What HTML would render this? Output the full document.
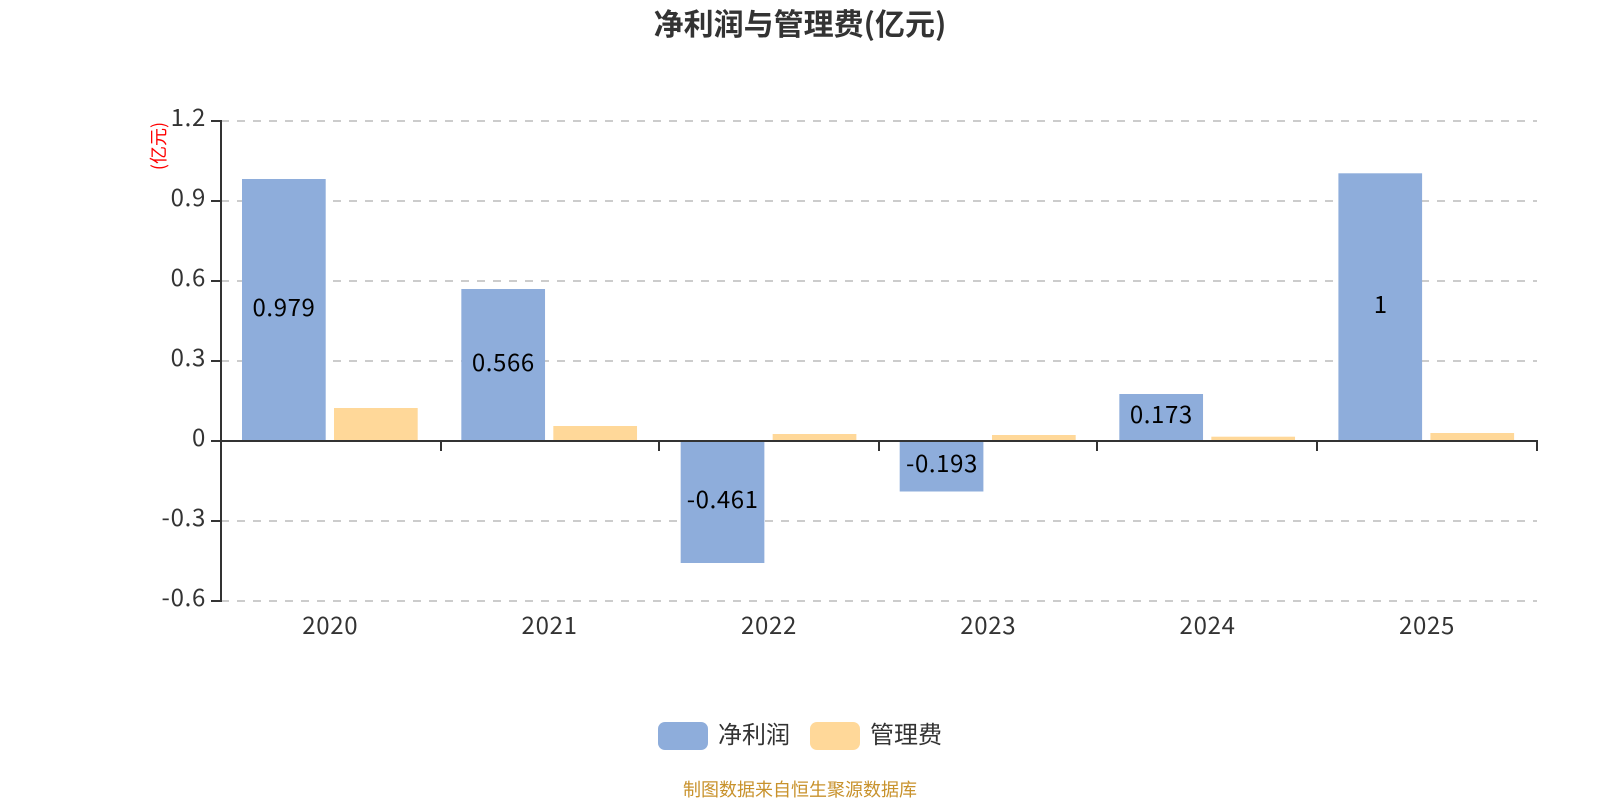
<!DOCTYPE html>
<html><head><meta charset="utf-8"><style>
html,body{margin:0;padding:0;background:#fff;width:1600px;height:800px;overflow:hidden}
svg{display:block}
text{font-family:"Noto Sans CJK SC","Liberation Sans",sans-serif}
.t{font-size:24px;fill:#333}
.n{letter-spacing:.7px}
.l{font-size:24px;fill:#000;text-anchor:middle;letter-spacing:.6px}
</style></head><body>
<svg width="1600" height="800" viewBox="0 0 1600 800" xmlns="http://www.w3.org/2000/svg">
<rect width="1600" height="800" fill="#fff"/>
<text x="800" y="35" text-anchor="middle" font-size="30" font-weight="700" fill="#333">净利润与管理费(亿元)</text>
<g stroke="#ccc" stroke-width="2" stroke-dasharray="8 8" fill="none">
<path d="M221 121H1537M221 201H1537M221 281H1537M221 361H1537M221 521H1537M221 601H1537"/>
</g>
<g fill="#8eaddb">
<rect x="242" y="179" width="83.7" height="261"/>
<rect x="461.33" y="289" width="83.7" height="151"/>
<rect x="680.67" y="440" width="83.7" height="123"/>
<rect x="899.7" y="440" width="83.7" height="51.5"/>
<rect x="1119.33" y="394" width="83.7" height="46"/>
<rect x="1338.4" y="173.3" width="83.7" height="266.7"/>
</g>
<g fill="#ffd899">
<rect x="334" y="408" width="83.7" height="32"/>
<rect x="553.33" y="426" width="83.7" height="14"/>
<rect x="772.67" y="434" width="83.7" height="6"/>
<rect x="992" y="435" width="83.7" height="5"/>
<rect x="1211.33" y="436.7" width="83.7" height="3.3"/>
<rect x="1430.4" y="433" width="83.7" height="7"/>
</g>
<g stroke="#333" stroke-width="2" fill="none">
<path d="M221 120V602"/>
<path d="M211 121H221M211 201H221M211 281H221M211 361H221M211 441H221M211 521H221M211 601H221"/>
<path d="M221 441H1538"/>
<path d="M441 441V451M659 441V451M879 441V451M1097 441V451M1317 441V451M1537 441V451"/>
</g>
<g text-anchor="end">
<text class="t n" x="206" y="126">1.2</text>
<text class="t n" x="206" y="206">0.9</text>
<text class="t n" x="206" y="286">0.6</text>
<text class="t n" x="206" y="366">0.3</text>
<text class="t n" x="206" y="446">0</text>
<text class="t n" x="206" y="526">-0.3</text>
<text class="t n" x="206" y="606">-0.6</text>
</g>
<g text-anchor="middle">
<text class="t n" x="330.3" y="634">2020</text>
<text class="t n" x="549.6" y="634">2021</text>
<text class="t n" x="769" y="634">2022</text>
<text class="t n" x="988.3" y="634">2023</text>
<text class="t n" x="1207.6" y="634">2024</text>
<text class="t n" x="1427" y="634">2025</text>
</g>
<text class="l" x="284" y="316">0.979</text>
<text class="l" x="503.33" y="371">0.566</text>
<text class="l" x="722.67" y="508">-0.461</text>
<text class="l" x="942" y="472">-0.193</text>
<text class="l" x="1161.33" y="423">0.173</text>
<text class="l" x="1380.67" y="313">1</text>
<text transform="translate(165 146) rotate(-90)" text-anchor="middle" font-size="18" fill="#f00">(亿元)</text>
<rect x="658" y="722" width="50" height="28" rx="7" fill="#8eaddb"/>
<text class="t" x="718" y="743">净利润</text>
<rect x="810" y="722" width="50" height="28" rx="7" fill="#ffd899"/>
<text class="t" x="870" y="743">管理费</text>
<text x="800" y="796" text-anchor="middle" font-size="18" fill="#c8922c">制图数据来自恒生聚源数据库</text>
</svg>
</body></html>
